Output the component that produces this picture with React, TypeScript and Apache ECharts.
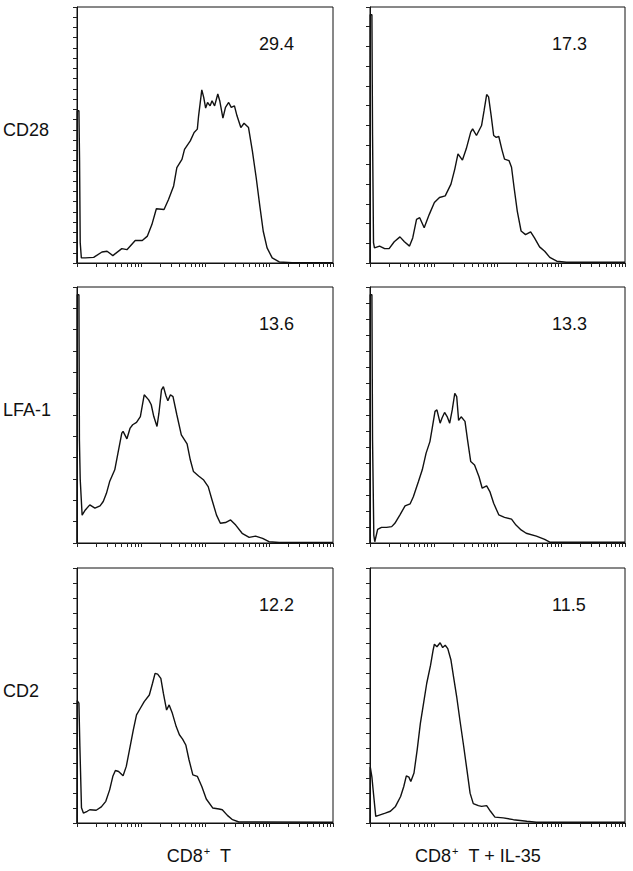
import React, { useEffect, useRef } from "react";
import * as echarts from "echarts";

// ---- data (x in log10 decades of fluorescence, y in % of panel height) ----
const rowMarkers = ["CD28", "LFA-1", "CD2"];
const percentLabels = ["29.4", "17.3", "13.6", "13.3", "12.2", "11.5"];
const yTickCounts = [25, 13, 12, 16, 17, 17];
const decadeMax = 4;

const cd28Control: [number, number][] = [
  [0, 0], [0.003, 59.5], [0.03, 59.5], [0.04, 40], [0.05, 8], [0.068, 2.0], [0.13, 2.0], [0.26, 2.2],
  [0.39, 4.3], [0.47, 4.6], [0.56, 2.9], [0.7, 5.6], [0.78, 5.2], [0.91, 8.8], [1.02, 8.8],
  [1.1, 10.5], [1.17, 15.0], [1.24, 21.2], [1.36, 20.9], [1.43, 24.8], [1.51, 30.1],
  [1.56, 37.3], [1.64, 40.5], [1.68, 44.4], [1.77, 47.7], [1.83, 51.0], [1.88, 52.3],
  [1.9, 57.5], [1.95, 67.6], [1.98, 64.7], [2.01, 60.5], [2.04, 62.7], [2.08, 61.4],
  [2.11, 63.4], [2.15, 61.4], [2.2, 66.0], [2.23, 63.4], [2.28, 56.6], [2.32, 60.8],
  [2.37, 62.7], [2.41, 60.8], [2.46, 61.4], [2.5, 57.5], [2.56, 52.9], [2.61, 54.6],
  [2.68, 52.9], [2.74, 43.8], [2.8, 33.3], [2.86, 21.6], [2.91, 12.4], [2.97, 5.9],
  [3.05, 2.0], [3.16, 0.4], [3.36, 0.1], [4.0, 0.1],
];

const cd28Il35: [number, number][] = [
  [0, 0], [0.003, 97], [0.03, 97], [0.04, 50], [0.055, 8], [0.07, 5.9], [0.15, 6.6], [0.23, 5.6],
  [0.3, 5.6], [0.38, 8.3], [0.47, 10.2], [0.54, 8.3], [0.62, 6.6], [0.67, 9.8], [0.73, 17.0],
  [0.78, 17.7], [0.85, 13.8], [0.93, 19.0], [1.01, 23.6], [1.09, 25.6], [1.18, 26.2],
  [1.27, 30.8], [1.33, 36.7], [1.38, 42.6], [1.45, 40.2], [1.51, 44.6], [1.58, 51.1],
  [1.61, 52.4], [1.67, 49.8], [1.75, 53.7], [1.79, 59.6], [1.83, 65.8], [1.86, 64.9],
  [1.9, 57.7], [1.94, 49.8], [1.98, 49.1], [2.02, 49.4], [2.07, 44.2], [2.11, 40.6],
  [2.18, 40.0], [2.22, 37.4], [2.26, 29.5], [2.31, 20.3], [2.37, 12.5], [2.44, 11.1],
  [2.52, 12.2], [2.58, 9.8], [2.66, 6.3], [2.74, 4.6], [2.82, 2.2], [2.93, 0.7],
  [3.08, 0.3], [4.0, 0.3],
];

const lfa1Control: [number, number][] = [
  [0, 0], [0.003, 97], [0.03, 97], [0.038, 40], [0.05, 25], [0.08, 10.9], [0.13, 12.9], [0.2, 14.9],
  [0.28, 13.6], [0.36, 14.5], [0.41, 16.2], [0.46, 19.4], [0.51, 24.0], [0.59, 28.6],
  [0.64, 35.1], [0.7, 42.9], [0.72, 43.6], [0.78, 40.7], [0.83, 44.9], [0.87, 46.2],
  [0.93, 47.1], [0.99, 49.4], [1.05, 57.9], [1.12, 55.9], [1.16, 54.0], [1.2, 49.4],
  [1.25, 45.5], [1.28, 50.7], [1.32, 59.8], [1.35, 61.1], [1.39, 57.5], [1.42, 55.6],
  [1.46, 57.9], [1.5, 57.2], [1.56, 50.1], [1.63, 42.2], [1.72, 38.7], [1.77, 32.5],
  [1.82, 27.9], [1.9, 26.2], [1.98, 24.6], [2.05, 22.0], [2.11, 16.8], [2.18, 10.9],
  [2.24, 7.7], [2.32, 8.0], [2.4, 9.0], [2.48, 7.0], [2.58, 3.8], [2.69, 2.2],
  [2.79, 2.7], [2.9, 1.8], [3.0, 0.5], [3.16, 0.2], [4.0, 0.2],
];

const lfa1Il35: [number, number][] = [
  [0, 0], [0.003, 97], [0.03, 97], [0.04, 40], [0.06, 3], [0.075, 0.5], [0.12, 5.3], [0.18, 6.1],
  [0.26, 6.1], [0.34, 6.4], [0.39, 7.7], [0.47, 11.0], [0.55, 14.5], [0.63, 15.3],
  [0.68, 18.1], [0.76, 24.0], [0.82, 28.6], [0.88, 35.1], [0.94, 39.6], [0.98, 45.5],
  [1.02, 51.4], [1.05, 52.0], [1.1, 46.8], [1.13, 48.8], [1.17, 51.0], [1.21, 49.4],
  [1.25, 46.8], [1.29, 52.0], [1.33, 58.5], [1.36, 57.2], [1.39, 47.9], [1.43, 49.3],
  [1.49, 47.5], [1.53, 40.3], [1.58, 31.8], [1.64, 30.5], [1.71, 25.9], [1.76, 21.4],
  [1.83, 22.3], [1.88, 20.1], [1.94, 15.5], [2.02, 11.0], [2.11, 10.0], [2.22, 9.3],
  [2.29, 7.0], [2.37, 5.1], [2.45, 3.8], [2.61, 2.7], [2.74, 1.4], [2.82, 0.3],
  [4.0, 0.3],
];

const cd2Control: [number, number][] = [
  [0, 0], [0.003, 48], [0.03, 47], [0.045, 30], [0.07, 6], [0.1, 3.9], [0.16, 4.6], [0.2, 5.2],
  [0.3, 5.0], [0.38, 6.3], [0.45, 8.5], [0.51, 13.0], [0.56, 18.3], [0.6, 20.6],
  [0.65, 20.2], [0.72, 18.5], [0.77, 22.2], [0.82, 28.7], [0.88, 36.5], [0.93, 42.4],
  [0.99, 45.0], [1.05, 47.6], [1.13, 50.2], [1.18, 54.8], [1.22, 58.7], [1.26, 58.4],
  [1.31, 56.7], [1.35, 50.8], [1.4, 44.3], [1.44, 46.3], [1.49, 43.0], [1.55, 37.8],
  [1.6, 34.6], [1.65, 32.9], [1.7, 30.6], [1.75, 24.8], [1.81, 18.9], [1.88, 18.3],
  [1.95, 14.3], [2.02, 9.4], [2.12, 5.9], [2.22, 5.5], [2.27, 5.2], [2.35, 3.0],
  [2.43, 1.3], [2.53, 0.4], [4.0, 0.3],
];

const cd2Il35: [number, number][] = [
  [0, 0], [0.004, 22], [0.03, 18], [0.045, 14], [0.09, 2.6], [0.17, 3.3], [0.24, 3.9],
  [0.32, 4.6], [0.4, 6.5], [0.48, 10.4], [0.53, 14.3], [0.57, 18.5], [0.61, 18.0],
  [0.64, 16.3], [0.69, 19.6], [0.74, 28.7], [0.79, 39.1], [0.84, 46.9], [0.89, 54.8],
  [0.95, 61.9], [0.99, 67.8], [1.01, 70.1], [1.05, 69.1], [1.1, 70.7], [1.14, 68.8],
  [1.18, 69.7], [1.22, 68.4], [1.27, 63.9], [1.31, 57.4], [1.36, 49.5], [1.41, 40.4],
  [1.47, 30.0], [1.52, 20.9], [1.57, 11.7], [1.62, 7.6], [1.7, 6.8], [1.75, 6.5],
  [1.83, 6.8], [1.89, 4.6], [1.96, 2.3], [2.09, 2.0], [2.25, 1.3], [2.46, 0.7],
  [2.61, 0.3], [4.0, 0.3],
];

const panelSeries = [cd28Control, cd28Il35, lfa1Control, lfa1Il35, cd2Control, cd2Il35];

// ---- layout ----
const colLeft = [77, 370];
const colWidth = [256, 255];
const rowTop = [7, 287, 568];
const rowHeight = [256, 256, 255];
const bottomLabelCenter = [199, 478];
const FONT = "'Liberation Sans', Arial, Helvetica, sans-serif";

function buildTickValues(): number[] {
  const vals: number[] = [];
  for (let d = 0; d < decadeMax; d++) {
    for (let k = 1; k < 10; k++) vals.push(k * Math.pow(10, d));
  }
  vals.push(Math.pow(10, decadeMax));
  return vals;
}

export default function App() {
  const ref = useRef<HTMLDivElement>(null);
  useEffect(() => {
    if (!ref.current) return;
    const chart = echarts.init(ref.current, null, { renderer: "svg" });
    const tickVals = buildTickValues();
    const grids: any[] = [];
    const xAxes: any[] = [];
    const yAxes: any[] = [];
    const series: any[] = [];
    const graphics: any[] = [];
    panelSeries.forEach((data, i) => {
      const r = Math.floor(i / 2);
      const c = i % 2;
      grids.push({
        left: colLeft[c],
        top: rowTop[r],
        width: colWidth[c],
        height: rowHeight[r],
        show: true,
        borderColor: "#111",
        borderWidth: 1,
        backgroundColor: "transparent",
        containLabel: false,
      });
      xAxes.push({
        type: "log",
        gridIndex: i,
        min: 1,
        max: Math.pow(10, decadeMax),
        logBase: 10,
        axisLine: { show: true, onZero: false, lineStyle: { color: "#111", width: 1 } },
        axisTick: { show: true, length: 4, inside: false, customValues: tickVals, lineStyle: { color: "#222", width: 1 } },
        axisLabel: { show: false },
        splitLine: { show: false },
      });
      const n = yTickCounts[i];
      yAxes.push({
        type: "value",
        gridIndex: i,
        min: 0,
        max: 100,
        interval: 100 / n,
        axisLine: { show: true, lineStyle: { color: "#111", width: 1 } },
        axisTick: { show: true, length: 4, inside: false, lineStyle: { color: "#222", width: 1 } },
        axisLabel: { show: false },
        splitLine: { show: false },
      });
      series.push({
        type: "line",
        xAxisIndex: i,
        yAxisIndex: i,
        data: data.map(([d, v]) => [Math.pow(10, d), v]),
        showSymbol: false,
        symbol: "none",
        smooth: false,
        lineStyle: { color: "#111", width: 1.4 },
        clip: true,
      });
      graphics.push({
        type: "text",
        x: colLeft[c] + 182,
        y: rowTop[r] + 37,
        style: { text: percentLabels[i], font: `18px ${FONT}`, fill: "#111", verticalAlign: "middle" },
      });
    });
    rowMarkers.forEach((m, r) => {
      graphics.push({
        type: "text",
        x: 3,
        y: rowTop[r] + 123,
        style: { text: m, font: `18px ${FONT}`, fill: "#111", verticalAlign: "middle" },
      });
    });
    const bottomTexts = [
      "{a|CD8}{s|+}{a|  T}",
      "{a|CD8}{s|+}{a|  T + IL-35}",
    ];
    bottomTexts.forEach((t, c) => {
      graphics.push({
        type: "text",
        x: bottomLabelCenter[c],
        y: 856,
        style: {
          text: t,
          align: "center",
          verticalAlign: "middle",
          fill: "#111",
          rich: {
            a: { fontSize: 18, fontFamily: FONT, fill: "#111", color: "#111" },
            s: { fontSize: 11, fontFamily: FONT, fill: "#111", color: "#111", padding: [0, 0, 10, 1] },
          },
        },
      });
    });
    chart.setOption({
      animation: false,
      backgroundColor: "#fff",
      grid: grids,
      xAxis: xAxes,
      yAxis: yAxes,
      series,
      graphic: graphics,
      tooltip: { show: false },
    });
    return () => chart.dispose();
  }, []);
  return (
    <div
      ref={ref}
      style={{ position: "absolute", left: 0, top: 0, width: 633, height: 871 }}
    />
  );
}
